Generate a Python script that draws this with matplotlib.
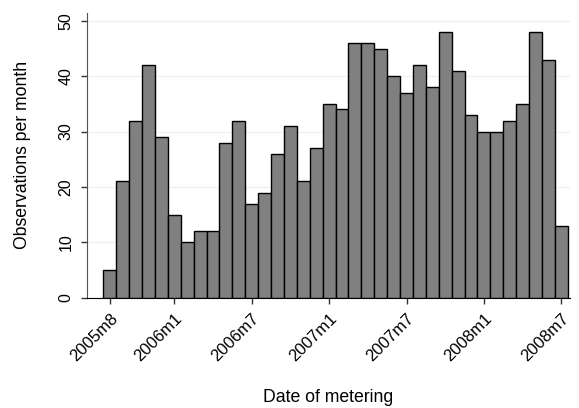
import numpy as np
import matplotlib
matplotlib.use("Agg")
from matplotlib import pyplot as plt

# monthly counts, 2005m8 .. 2008m7
counts = [5, 21, 32, 42, 29, 15, 10, 12, 12, 28, 32, 17,
          19, 26, 31, 21, 27, 35, 34, 46, 46, 45, 40, 37,
          42, 38, 48, 41, 33, 30, 30, 32, 35, 48, 43, 13]
tick_pos = [0, 5, 11, 17, 23, 29, 35]
tick_labels = ["2005m8", "2006m1", "2006m7", "2007m1", "2007m7", "2008m1", "2008m7"]
y_ticks = [0, 10, 20, 30, 40, 50]

plt.rcParams["font.family"] = ["Liberation Sans", "DejaVu Sans"]

fig = plt.figure(figsize=(5.79, 4.08), dpi=100)
ax = fig.add_axes([0.150, 0.270, 0.834, 0.698])

x = np.arange(len(counts))
ax.bar(x, counts, width=1.0, color="#808080", edgecolor="black", linewidth=1.0, zorder=3)

ax.set_xlim(-1.78, 35.65)
ax.set_ylim(0, 51.4)

ax.set_yticks(y_ticks)
ax.set_yticklabels([str(v) for v in y_ticks], rotation=90, va="center", fontsize=11.5)
ax.set_xticks(tick_pos)
ax.set_xticklabels(tick_labels, rotation=45, ha="right", rotation_mode="anchor", fontsize=12)

ax.grid(axis="y", color="#eaf2f3", linewidth=1.0, zorder=0)
ax.tick_params(axis="both", direction="out", length=4.5, width=1, color="#333333", pad=5)

ax.spines["top"].set_visible(False)
ax.spines["right"].set_visible(False)
ax.spines["left"].set_color("#555555")
ax.spines["bottom"].set_color("black")

fig.text(23 / 579, 1 - 155 / 408, "Observations per month", rotation=90,
         ha="center", va="center", fontsize=12.7)
fig.text(0.5 * (0.150 + 0.984), 1 - 398 / 408, "Date of metering",
         ha="center", va="center", fontsize=12.7)

fig.savefig("out.png", dpi=100)
